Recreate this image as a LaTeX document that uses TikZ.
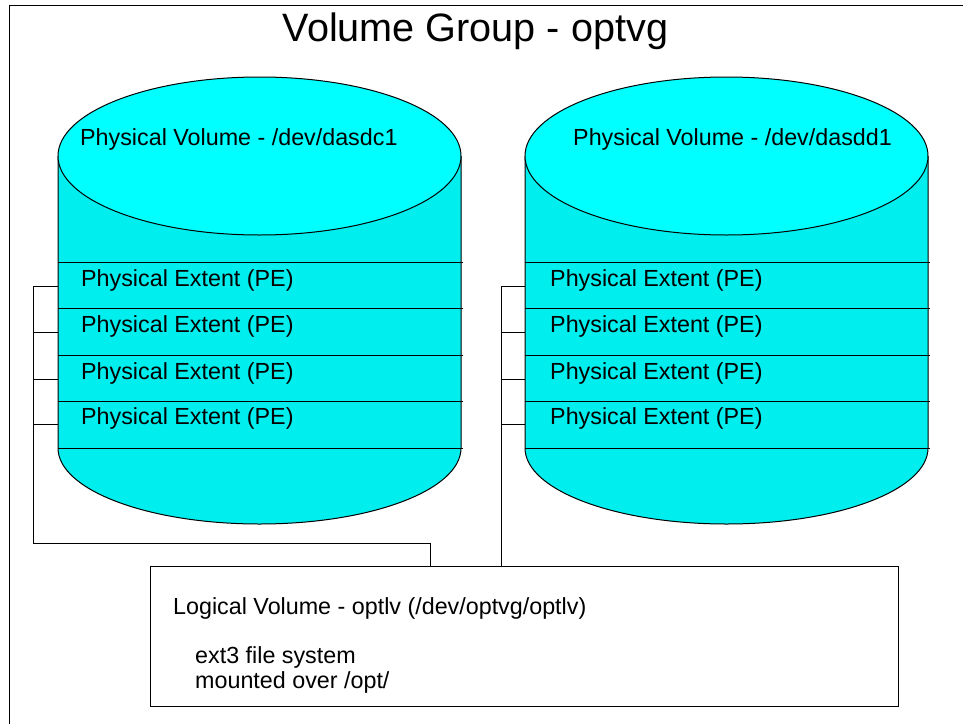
\documentclass[tikz,border=0pt]{standalone}
\usepackage{fontspec}
\setmainfont{Liberation Sans}
\definecolor{cyantop}{RGB}{0,255,255}
\definecolor{cyanbody}{RGB}{0,238,238}
\tikzset{
  outline/.style={draw=black, line width=1pt},
  conn/.style={draw=black, line width=1pt},
  pvtext/.style={anchor=base west, inner sep=0pt, font=\fontsize{23.3}{28}\selectfont},
  petext/.style={anchor=base west, inner sep=0pt, font=\fontsize{23.3}{28}\selectfont},
  lvtext/.style={anchor=base west, inner sep=0pt, font=\fontsize{23.3}{28}\selectfont},
  titletext/.style={anchor=base, inner sep=0pt, font=\fontsize{39.6}{45}\selectfont},
}
% #1 = centre x, #2 = name prefix
\newcommand\drawcylinder[2]{%
  \fill[cyanbody] (#1-201.5,156) -- (#1-201.5,448)
     arc[start angle=180, end angle=360, x radius=201.5pt, y radius=76pt]
     -- (#1+201.5,156) -- cycle;
  \draw[outline] (#1-201.5,156) -- (#1-201.5,448)
     arc[start angle=180, end angle=360, x radius=201.5pt, y radius=76pt]
     -- (#1+201.5,156);
  \foreach \yy in {262,308,355,401,448}{
    \draw[outline] (#1-201.5,\yy) -- (#1+203,\yy);
  }
  \filldraw[fill=cyantop, outline] (#1,156) ellipse[x radius=201.5pt, y radius=79pt];
  \coordinate (#2e1) at (#1-201.5,286);
  \coordinate (#2e2) at (#1-201.5,332);
  \coordinate (#2e3) at (#1-201.5,379);
  \coordinate (#2e4) at (#1-201.5,424);
}
\begin{document}
\begin{tikzpicture}[x=1pt,y=-1pt]
\useasboundingbox (0,0) rectangle (963,723);
\fill[white] (0,0) rectangle (963,723);
% outer frame (clipped at the page edges)
\draw[outline] (9,730) -- (9,5) -- (970,5);
\node[titletext] (title) at (475.5,41) {Volume Group - optvg};

\drawcylinder{259.5}{L}
\drawcylinder{726.5}{R}

\node[pvtext] (pvL) at (80,145) {Physical Volume - /dev/dasdc1};
\node[pvtext] (pvR) at (573,145) {Physical Volume - /dev/dasdd1};

\foreach \i/\yy in {1/286,2/332,3/379,4/424}{
  \node[petext] (peL\i) at (81,\yy) {Physical Extent (PE)};
  \node[petext] (peR\i) at (550,\yy) {Physical Extent (PE)};
}

% logical volume box
\node[outline, rectangle, minimum width=748pt, minimum height=140pt, anchor=north west, inner sep=0pt] (lv) at (149.5,566) {};
\node[lvtext] (lvt1) at (173,614) {Logical Volume - optlv (/dev/optvg/optlv)};
\node[lvtext] (lvt2) at (195,663) {ext3 file system};
\node[lvtext] (lvt3) at (195,688) {mounted over /opt/};

% bracket coordinates
\coordinate (bl1) at (33,286);
\coordinate (bl2) at (33,332);
\coordinate (bl3) at (33,379);
\coordinate (bl4) at (33,424);
\coordinate (blc) at (33,543);
\coordinate (bld) at (430,543);
\coordinate (br1) at (501,286);
\coordinate (br2) at (501,332);
\coordinate (br3) at (501,379);
\coordinate (br4) at (501,424);

\foreach \i in {1,2,3,4}{
  \draw[conn] (bl\i) -- (Le\i);
  \draw[conn] (br\i) -- (Re\i);
}
\draw[conn] (bl1) -- (blc) -- (bld) -- (bld |- lv.north);
\draw[conn] (br1) -- (br1 |- lv.north);
\end{tikzpicture}
\end{document}
